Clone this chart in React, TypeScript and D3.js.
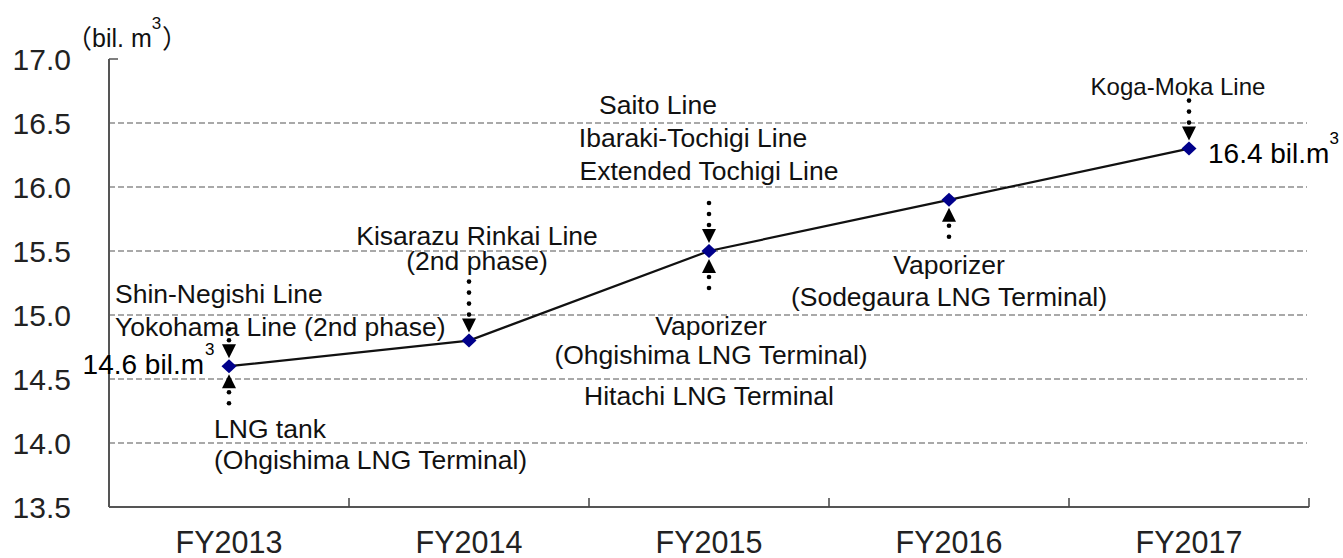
import React from "react";
import * as d3 from "d3";

const categories = ["FY2013", "FY2014", "FY2015", "FY2016", "FY2017"];
const values = [14.6, 14.8, 15.5, 15.9, 16.3];
const yTickValues = [13.5, 14.0, 14.5, 15.0, 15.5, 16.0, 16.5, 17.0];
const gridValues = [14.0, 14.5, 15.0, 15.5, 16.0, 16.5];
const unitLabel = "bil. m";

// value callouts: category, text
const valueLabels = [
  { cat: "FY2013", text: "14.6 bil.m", side: "left" },
  { cat: "FY2017", text: "16.4 bil.m", side: "right" },
];

// arrows: category, direction (down = from above, up = from below), number of dots
const arrows = [
  { cat: "FY2013", dir: "down", dots: 2 },
  { cat: "FY2013", dir: "up", dots: 2 },
  { cat: "FY2014", dir: "down", dots: 4 },
  { cat: "FY2015", dir: "down", dots: 3 },
  { cat: "FY2015", dir: "up", dots: 2 },
  { cat: "FY2016", dir: "up", dots: 2 },
  { cat: "FY2017", dir: "down", dots: 3 },
];

// annotation texts per category
const annotations = [
  { cat: "FY2013", text: "Shin-Negishi Line" },
  { cat: "FY2013", text: "Yokohama Line (2nd phase)" },
  { cat: "FY2013", text: "LNG tank" },
  { cat: "FY2013", text: "(Ohgishima LNG Terminal)" },
  { cat: "FY2014", text: "Kisarazu Rinkai Line" },
  { cat: "FY2014", text: "(2nd phase)" },
  { cat: "FY2015", text: "Saito Line" },
  { cat: "FY2015", text: "Ibaraki-Tochigi Line" },
  { cat: "FY2015", text: "Extended Tochigi Line" },
  { cat: "FY2015", text: "Vaporizer" },
  { cat: "FY2015", text: "(Ohgishima LNG Terminal)" },
  { cat: "FY2015", text: "Hitachi LNG Terminal" },
  { cat: "FY2016", text: "Vaporizer" },
  { cat: "FY2016", text: "(Sodegaura LNG Terminal)" },
  { cat: "FY2017", text: "Koga-Moka Line" },
];

// layout for annotations (offsets from the data point, px), same order as annotations
const annotationLayout = [
  { dx: -114, dy: -63, anchor: "start", size: 26.5 },
  { dx: -114, dy: -30, anchor: "start", size: 26.5 },
  { dx: -15, dy: 72, anchor: "start", size: 26.5 },
  { dx: -15, dy: 103, anchor: "start", size: 26.5 },
  { dx: 8, dy: -96, anchor: "middle", size: 26.5 },
  { dx: 8, dy: -71, anchor: "middle", size: 26.5 },
  { dx: -51, dy: -137, anchor: "middle", size: 26.5 },
  { dx: -16, dy: -104, anchor: "middle", size: 26.5 },
  { dx: 0, dy: -71, anchor: "middle", size: 26.5 },
  { dx: 2, dy: 84, anchor: "middle", size: 26.5 },
  { dx: 2, dy: 113, anchor: "middle", size: 26.5 },
  { dx: 0, dy: 154, anchor: "middle", size: 26.5 },
  { dx: 0, dy: 74, anchor: "middle", size: 26.5 },
  { dx: 0, dy: 106, anchor: "middle", size: 26.5 },
  { dx: -11, dy: -54, anchor: "middle", size: 24 },
];

const W = 1343;
const H = 558;
const FONT = "'Liberation Sans', Arial, sans-serif";
const CJK = "'Noto Sans CJK JP', " + FONT;

export default function App() {
  const left = 109;
  const right = 1309;
  const top = 59;
  const bottom = 507;

  const x = d3.scaleBand<string>().domain(categories).range([left, right]).padding(0);
  const y = d3.scaleLinear().domain([13.5, 17.0]).range([bottom, top]);
  const cx = (c: string) => (x(c) as number) + x.bandwidth() / 2;
  const valOf = (c: string) => values[categories.indexOf(c)];

  const line = d3
    .line<number>()
    .x((_, i) => cx(categories[i]))
    .y((d) => y(d));

  const diamond = (px: number, py: number) =>
    `M${px},${py - 7} L${px + 7.5},${py} L${px},${py + 7} L${px - 7.5},${py} Z`;

  const boundaries = categories.map((c) => x(c) as number).concat([right]);

  return (
    <svg
      width={W}
      height={H}
      style={{ position: "absolute", left: 0, top: 0, background: "#fff" }}
      fontFamily={FONT}
    >
      {/* gridlines */}
      {gridValues.map((v) => (
        <line
          key={"g" + v}
          x1={left}
          x2={right - 2}
          y1={y(v)}
          y2={y(v)}
          stroke="#555"
          strokeWidth={1.2}
          strokeDasharray="6,3"
        />
      ))}
      {/* axes */}
      <line x1={left} x2={left} y1={top} y2={bottom} stroke="#555" strokeWidth={2} />
      <line x1={left} x2={left + 9} y1={top} y2={top} stroke="#555" strokeWidth={1.5} />
      <line x1={left} x2={right} y1={bottom} y2={bottom} stroke="#555" strokeWidth={2} />
      {boundaries.slice(1).map((bx, i) => (
        <line key={"t" + i} x1={bx} x2={bx} y1={bottom} y2={bottom - 9} stroke="#444" strokeWidth={1.5} />
      ))}
      {/* y tick labels */}
      {yTickValues.map((v) => (
        <text
          key={"y" + v}
          x={71}
          y={y(v) + 11}
          textAnchor="end"
          fontSize={30}
          fill="#222"
        >
          {v.toFixed(1)}
        </text>
      ))}
      {/* unit */}
      <text x={66} y={48} fontSize={26} fill="#111" fontFamily={CJK}>
        （
      </text>
      <text x={92} y={47} fontSize={25} fill="#111">
        {unitLabel}
        <tspan fontSize={17} dy={-18}>3</tspan>
      </text>
      <text x={162} y={48} fontSize={26} fill="#111" fontFamily={CJK}>
        ）
      </text>
      {/* x labels */}
      {categories.map((c) => (
        <text key={"x" + c} x={cx(c)} y={553} textAnchor="middle" fontSize={30.5} fill="#222">
          {c}
        </text>
      ))}
      {/* annotations */}
      {annotations.map((a, i) => {
        const l = annotationLayout[i];
        return (
          <text
            key={"a" + i}
            x={cx(a.cat) + l.dx}
            y={y(valOf(a.cat)) + l.dy}
            textAnchor={l.anchor as any}
            fontSize={l.size}
            fill="#111"
          >
            {a.text}
          </text>
        );
      })}
      {/* arrows */}
      {arrows.map((a, i) => {
        const px = cx(a.cat);
        const py = y(valOf(a.cat));
        const s = a.dir === "down" ? -1 : 1;
        const tip = py + s * 8;
        const base = tip + s * 14;
        const dots = d3.range(a.dots).map((k) => base + s * (4 + k * 11));
        return (
          <g key={"ar" + i}>
            <path d={`M${px},${tip} L${px - 7},${base} L${px + 7},${base} Z`} fill="#000" />
            {dots.map((dy, k) => (
              <circle key={k} cx={px} cy={dy} r={2.3} fill="#000" />
            ))}
          </g>
        );
      })}
      {/* series line */}
      <path d={line(values) || ""} fill="none" stroke="#111" strokeWidth={2.2} />
      {values.map((v, i) => (
        <path key={"m" + i} d={diamond(cx(categories[i]), y(v))} fill="#00008B" />
      ))}
      {/* value labels */}
      {valueLabels.map((vl) => {
        const px = cx(vl.cat);
        const py = y(valOf(vl.cat));
        const isLeft = vl.side === "left";
        const bx = isLeft ? px - 25 : px + 19;
        const by = isLeft ? py + 8 : py + 14;
        return (
          <g key={"v" + vl.cat}>
            <text x={bx} y={by} fontSize={28} fill="#000" textAnchor={isLeft ? "end" : "start"}>
              {isLeft ? (
                vl.text
              ) : (
                <>
                  {vl.text}
                  <tspan fontSize={17} dy={-19}>3</tspan>
                </>
              )}
            </text>
            {isLeft && (
              <text x={bx + 1} y={by - 19} fontSize={17} fill="#000">
                3
              </text>
            )}
          </g>
        );
      })}
    </svg>
  );
}
